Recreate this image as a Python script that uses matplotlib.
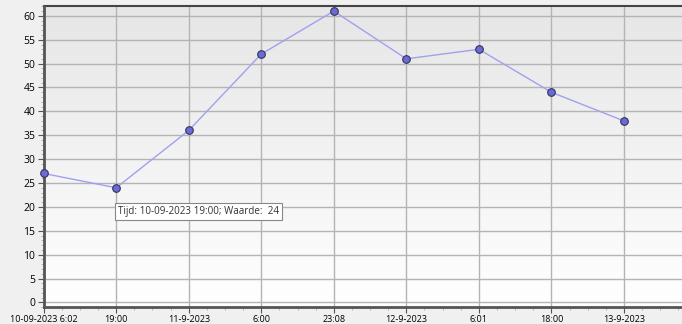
import numpy as np
import matplotlib
matplotlib.use('Agg')
import matplotlib.pyplot as plt
from matplotlib.ticker import MultipleLocator

# ---------- DATA ----------
tick_labels = ['10-09-2023 6:02', '19:00', '11-9-2023', '6:00', '23:08',
               '12-9-2023', '6:01', '18:00', '13-9-2023']
values = [27, 24, 36, 52, 61, 51, 53, 44, 38]
tooltip = 'Tijd: 10-09-2023 19:00; Waarde:  24'

plt.rcParams['font.family'] = ['Open Sans', 'DejaVu Sans']

fig = plt.figure(figsize=(6.82, 3.24), dpi=100)
fig.patch.set_facecolor('#f0f0f0')
ax = fig.add_axes([0.064, 0.052, 0.936, 0.93])

x = np.arange(len(values))
ax.set_xlim(0, 8.8)
ax.set_ylim(-1, 62.1)

# gradient background: grey at top, white at bottom
grad = np.linspace(0, 1, 256).reshape(-1, 1)
ax.imshow(grad, extent=[0, 8.8, -1, 62.1], aspect='auto', origin='lower',
          interpolation='bilinear',
          cmap=matplotlib.colors.LinearSegmentedColormap.from_list('bg', ['#ffffff', '#e6e6e6']),
          zorder=0)

ax.set_xticks(x)
ax.set_xticklabels(tick_labels, fontsize=6.5)
ax.xaxis.set_minor_locator(MultipleLocator(0.25))
ax.set_yticks(range(0, 61, 5))
ax.tick_params(axis='y', labelsize=7.5)
ax.yaxis.set_minor_locator(MultipleLocator(1))
ax.tick_params(which='major', length=4, color='#555555', pad=2)
ax.tick_params(which='minor', length=2, color='#aaaaaa')
ax.grid(True, which='major', color='#b4b4b4', linewidth=1, zorder=1)

ax.plot(x, values, color='#a0a0f0', linewidth=1, zorder=3)
ax.scatter(x, values, s=30, color='#6a6ad8', edgecolors='#333355',
           linewidths=0.8, zorder=4, clip_on=False)

ax.text(1.03, 19.0, tooltip, fontsize=7.1, color='#333333', va='center', ha='left',
        bbox=dict(boxstyle='square,pad=0.3', facecolor='white', edgecolor='#888888',
                  linewidth=0.8), zorder=5)

for side in ['top', 'right']:
    ax.spines[side].set_visible(False)
ax.spines['left'].set_linewidth(2)
ax.spines['left'].set_color('#555555')
ax.spines['bottom'].set_linewidth(2)
ax.spines['bottom'].set_color('#555555')
ax.axhline(62.1, color='#444444', linewidth=1.5, clip_on=False)

plt.savefig('out.png', dpi=100, facecolor=fig.get_facecolor())
